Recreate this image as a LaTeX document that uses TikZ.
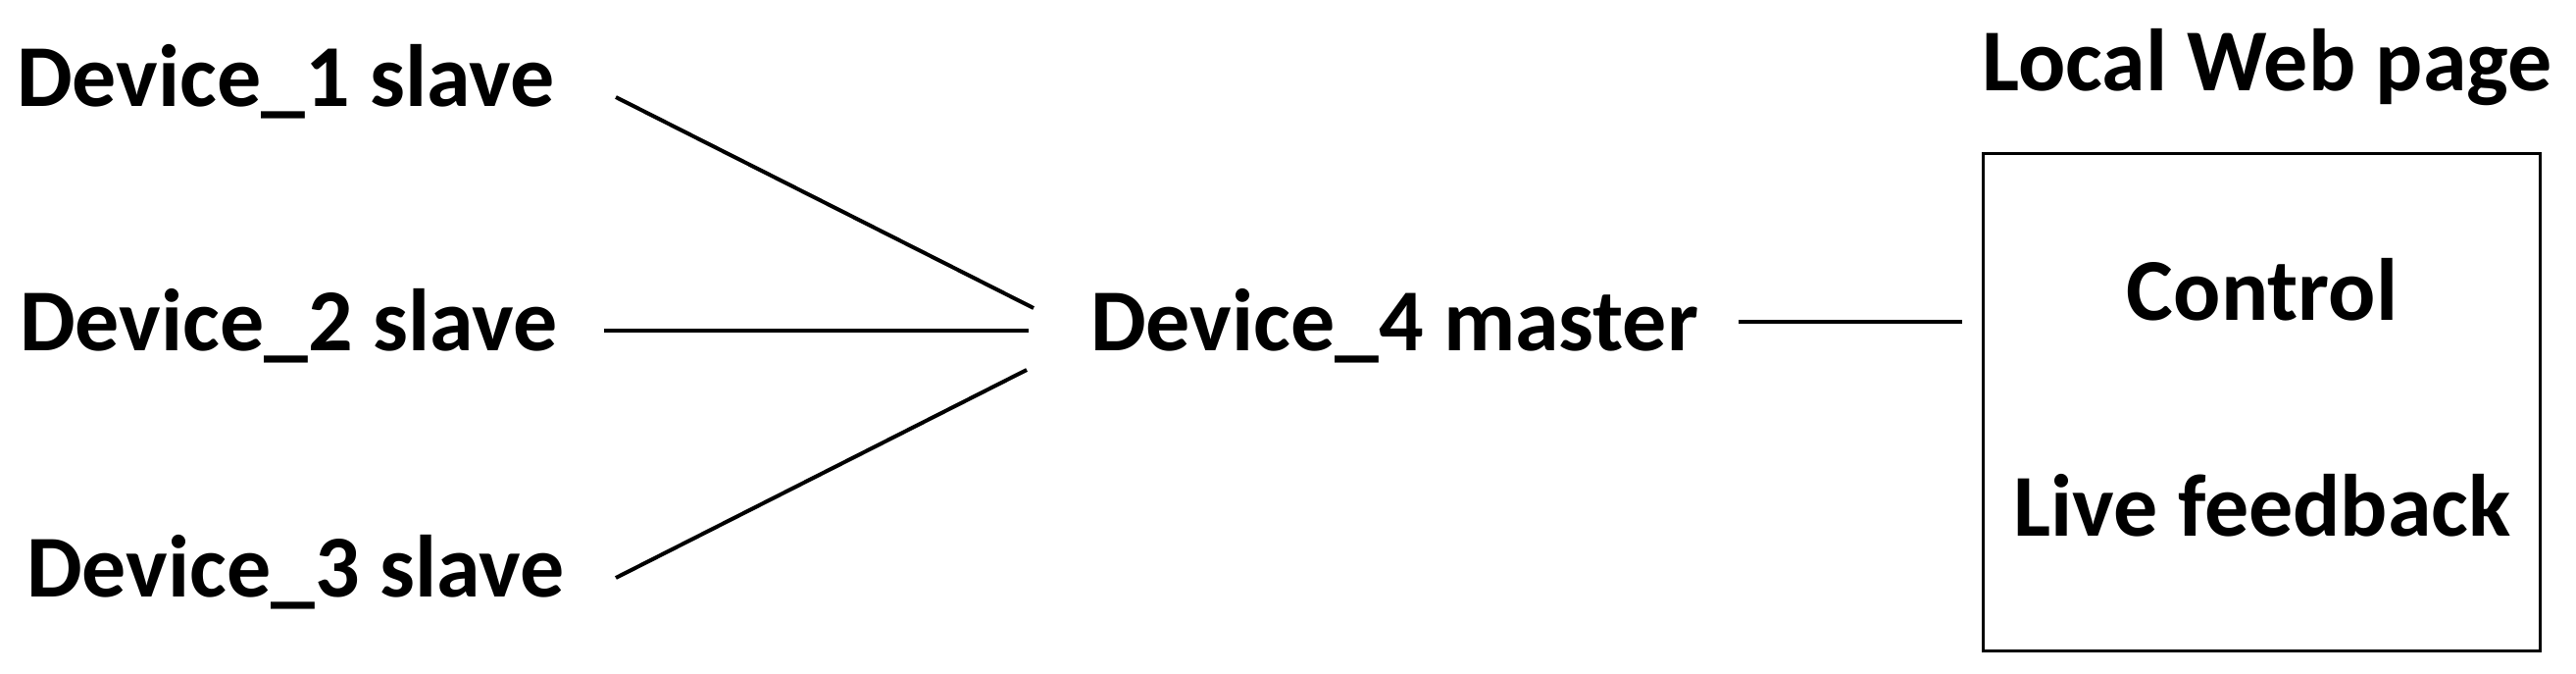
\documentclass[tikz,border=0pt]{standalone}
\usepackage{fontspec}
\setmainfont{Carlito}
\begin{document}
\begin{tikzpicture}[x=1pt,y=-1pt,
  lbl/.style={inner sep=0pt,font=\fontsize{90}{108}\selectfont\bfseries},
  wire/.style={line width=4pt,black},
  pagebox/.style={draw=black,line width=3pt,inner sep=0pt}]
\useasboundingbox (0,0) rectangle (2627,686);
% labels
\node[lbl,anchor=base west] (d1) at (17,108) {Device\_1 slave};
\node[lbl,anchor=base west] (d2) at (20,357) {Device\_2 slave};
\node[lbl,anchor=base west] (d3) at (27,608) {Device\_3 slave};
\node[lbl,anchor=base west] (d4) at (1112,357) {Device\_4 master};
\node[pagebox,minimum width=568pt,minimum height=507pt] (web) at (2306,409.5) {};
\node[lbl,anchor=base] (title) at (2312,92) {Local Web page};
\node[lbl,anchor=base] (ctrl) at (2307,326) {Control};
\node[lbl,anchor=base] (live) at (2307,546) {Live feedback};
% connector ends
\coordinate (d1o) at (628,99);
\coordinate (d2o) at (616,337);
\coordinate (d3o) at (628,589);
\coordinate (d4a) at (1054,314);
\coordinate (d4b) at (1049,337);
\coordinate (d4c) at (1047,377);
\coordinate (d4o) at (1773,328);
\coordinate (webi) at (2001,328);
\draw[wire] (d1o) -- (d4a);
\draw[wire] (d2o) -- (d4b);
\draw[wire] (d3o) -- (d4c);
\draw[wire] (d4o) -- (webi);
\end{tikzpicture}
\end{document}
